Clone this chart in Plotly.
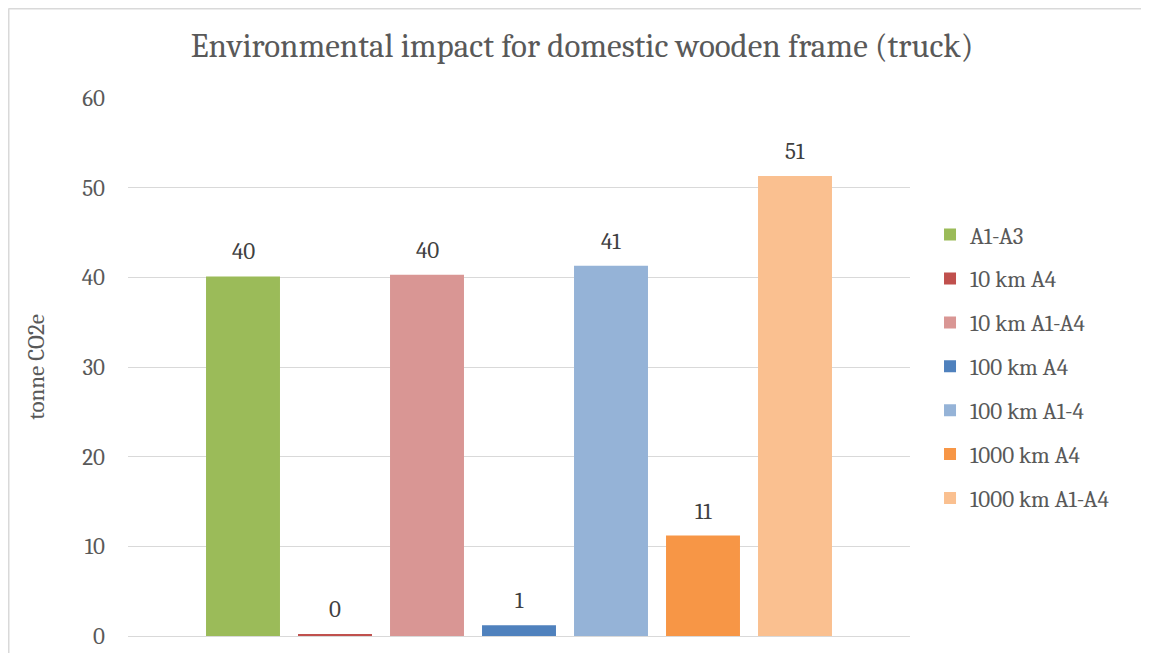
import plotly.graph_objects as go

series_names = ["A1-A3", "10 km A4", "10 km A1-A4", "100 km A4", "100 km A1-4", "1000 km A4", "1000 km A1-A4"]
values = [40.1, 0.2, 40.3, 1.2, 41.3, 11.2, 51.3]
colors = ["#9BBB59", "#C0504D", "#D99694", "#4F81BD", "#95B3D7", "#F79646", "#FAC090"]
y_ticks = [0, 10, 20, 30, 40, 50, 60]

FONT = "Cambria, Caladea, 'Liberation Serif', serif"
TXT = "#595959"

fig = go.Figure()
for name, v, c in zip(series_names, values, colors):
    fig.add_trace(go.Bar(x=[name], y=[v], name=name, marker_color=c,
                         marker_line_width=0, legendgroup=name, hoverinfo="x+y"))

for name, v in zip(series_names, values):
    fig.add_annotation(x=name, y=v, text=f"{v:.0f}", showarrow=False,
                       yanchor="bottom", yshift=9,
                       font=dict(family=FONT, size=23, color="#404040"))

border = dict(color="#D9D9D9", width=2)
fig.update_layout(
    width=1133, height=645,
    paper_bgcolor="white", plot_bgcolor="white",
    margin=dict(l=120, r=231, t=90, b=17, autoexpand=False),
    barmode="overlay", bargap=0.196,
    title=dict(text="Environmental impact for domestic wooden frame (truck)",
               x=0.5066, xanchor="center", y=0.9426, yanchor="middle",
               font=dict(family=FONT, size=33, color=TXT)),
    font=dict(family=FONT, size=23, color=TXT),
    showlegend=True,
    legend=dict(x=1.0256, xanchor="left", y=0.786, yanchor="top",
                traceorder="grouped", tracegroupgap=11,
                font=dict(family=FONT, size=23, color=TXT),
                itemwidth=30, bgcolor="rgba(0,0,0,0)"),
    xaxis=dict(range=[-1.25, 7.25], showticklabels=False, showgrid=False,
               zeroline=False, showline=False, ticks="", automargin=False),
    yaxis=dict(range=[0, 60], tickvals=y_ticks, ticktext=[str(t) for t in y_ticks],
               showgrid=True, gridcolor="#D9D9D9", gridwidth=1,
               zeroline=True, zerolinecolor="#D9D9D9", zerolinewidth=1,
               showline=False, ticks="", ticklabelstandoff=22, automargin=False,
               tickfont=dict(family=FONT, size=23, color=TXT),
               title=dict(text="tonne CO2e", standoff=30,
                          font=dict(family=FONT, size=23, color=TXT))),
    shapes=[
        dict(type="line", xref="paper", yref="paper",
             x0=-119.5 / 782, x1=1.4, y0=1 + 89.5 / 538, y1=1 + 89.5 / 538,
             line=border, layer="below"),
        dict(type="line", xref="paper", yref="paper",
             x0=-119.5 / 782, x1=-119.5 / 782, y0=-0.2, y1=1 + 89.5 / 538,
             line=border, layer="below"),
    ],
)

fig.write_html("out.html")
